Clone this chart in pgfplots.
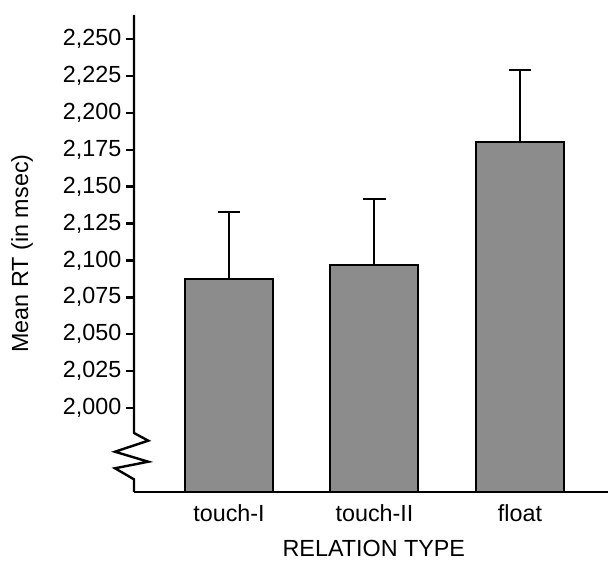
\documentclass[border=0pt]{standalone}
\usepackage{fontspec}
\setmainfont{Liberation Sans}
\usepackage{pgfplots}
\pgfplotsset{compat=1.18}
\definecolor{barGray}{HTML}{8C8C8C}
\begin{document}
\begin{tikzpicture}
\begin{axis}[
  at={(0,0)}, anchor=south west,
  scale only axis,
  width=355.5pt, height=357.75pt,
  xmin=-0.653, xmax=2.605,
  ymin=1943.1, ymax=2266.3,
  axis x line=bottom, axis y line=left,
  axis line style={-, line width=1.8pt},
  y axis line style={draw=none},
  xtick=data,
  xticklabels={touch-I, touch-II, float},
  x tick style={draw=none},
  ytick={2000,2025,...,2250},
  y tick style={line width=1.8pt, black},
  tick align=outside,
  major tick length=6pt,
  /pgf/number format/.cd, 1000 sep={,}, assume math mode=true,
  /pgfplots/.cd,
  tick label style={font=\fontsize{17.5pt}{21pt}\selectfont},
  label style={font=\fontsize{17.5pt}{21pt}\selectfont},
  ylabel={Mean RT (in msec)},
  xlabel={RELATION TYPE},
  y label style={at={(axis description cs:-0.2363,0.5)}, anchor=center},
  x label style={at={(axis description cs:0.506,-0.1174)}, anchor=center},
]
\addplot[ybar, bar width=66pt, fill=barGray, draw=black, line width=1.5pt,
  error bars/.cd, y dir=plus, y explicit,
  error bar style={line width=1.5pt, black},
  error mark options={rotate=90, line width=1.5pt, mark size=8.6pt, black}]
  table[x=x, y=y, y error=e] {
  x y e
  0 2087.4 45.4
  1 2096.9 44.7
  2 2180.2 48.8
  };
\end{axis}
\draw[line width=1.8pt, line join=miter, miter limit=10]
  (0,357.75pt) -- (0,44.25pt) -- (10.7pt,38.5pt) -- (-14.25pt,30.2pt)
  -- (10.7pt,22.7pt) -- (-14.25pt,17.8pt) -- (0,9.5pt) -- (0,0);
\pgfresetboundingbox
\useasboundingbox (-100.5pt,-53.25pt) rectangle (355.5pt,369pt);
\end{tikzpicture}
\end{document}
